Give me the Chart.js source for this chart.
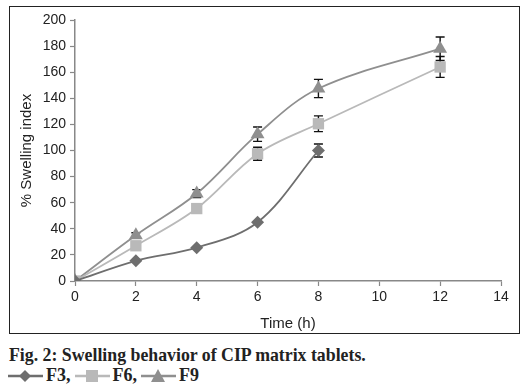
<!DOCTYPE html>
<html>
<head>
<meta charset="utf-8">
<script src="https://cdn.jsdelivr.net/npm/chart.js@4.4.1/dist/chart.umd.min.js"></script>
<style>
    html, body { margin: 0; padding: 0; background: #fff; }
    body { width: 526px; height: 386px; position: relative; overflow: hidden; }
    #frame { position: absolute; left: 9px; top: 6px; width: 509px; height: 326px; border: 1.5px solid #222; }
    #frame canvas { position: absolute; left: 0; top: 0; }
    #caption { position: absolute; left: 9px; top: 345px; font: bold 17.8px "Liberation Serif", serif; color: #222; white-space: nowrap; }
    #legend { position: absolute; left: 8px; top: 365px; font: bold 18px "Liberation Serif", serif; color: #222; white-space: nowrap; display: flex; align-items: center; }
    #legend svg { vertical-align: middle; margin-right: 3px; }
    #legend span { margin-right: 4px; }
</style>
</head>
<body>
<div id="frame"><canvas id="chart" width="509" height="326"></canvas></div>
<div id="caption">Fig. 2: Swelling behavior of CIP matrix tablets.</div>
<div id="legend"></div>
<script>
// data
const times = [0, 2, 4, 6, 8, 12];
const xTicks = [0, 2, 4, 6, 8, 10, 12, 14];
const yTicks = [0, 20, 40, 60, 80, 100, 120, 140, 160, 180, 200];

const f3 = [0, 15.5, 25.5, 45, 100];
const f3Err = [0, 0, 0, 0, 5];
const f6 = [0, 27, 55.5, 97.5, 120.5, 164];
const f6Err = [0, 0, 0, 5, 6, 8];
const f9 = [0, 35, 67, 112.5, 147.5, 178];
const f9Err = [0, 2, 3, 5.5, 7, 9];

const seriesNames = ['F3', 'F6', 'F9'];
const seriesColors = ['#6e6e6e', '#b9b9b9', '#8f8f8f'];
const seriesShapes = ['rectRot', 'rect', 'triangle'];
const seriesSizes = [6.5, 8, 8];

const toPoints = vals => vals.map((v, i) => ({ x: times[i], y: v }));

const errorBars = {
    id: 'errorBars',
    beforeDatasetsDraw(chart) {
        const ctx = chart.ctx;
        const errs = [f3Err, f6Err, f9Err];
        const xs = chart.scales.x, ys = chart.scales.y;
        ctx.save();
        ctx.strokeStyle = '#111';
        ctx.lineWidth = 1.4;
        chart.data.datasets.forEach((ds, di) => {
            ds.data.forEach((p, i) => {
                const e = errs[di][i];
                if (!e) return;
                const px = xs.getPixelForValue(p.x);
                const top = ys.getPixelForValue(p.y + e);
                const bot = ys.getPixelForValue(p.y - e);
                ctx.beginPath();
                ctx.moveTo(px, top); ctx.lineTo(px, bot);
                ctx.moveTo(px - 4.5, top); ctx.lineTo(px + 4.5, top);
                ctx.moveTo(px - 4.5, bot); ctx.lineTo(px + 4.5, bot);
                ctx.stroke();
            });
        });
        ctx.restore();
    }
};

const axisFont = { family: '"Liberation Sans", Arial, sans-serif', size: 14 };
const titleFont = { family: '"Liberation Sans", Arial, sans-serif', size: 15 };

new Chart(document.getElementById('chart'), {
    type: 'line',
    data: {
        datasets: [f3, f6, f9].map((vals, i) => ({
            label: seriesNames[i],
            data: toPoints(vals),
            borderColor: seriesColors[i],
            backgroundColor: seriesColors[i],
            borderWidth: 1.8,
            pointStyle: seriesShapes[i],
            pointRadius: seriesSizes[i],
            pointHoverRadius: seriesSizes[i],
            pointBorderWidth: 0,
            tension: 0.35
        }))
    },
    options: {
        responsive: false,
        animation: false,
        events: [],
        layout: { padding: { left: 0, right: 18, top: 13, bottom: 0 } },
        plugins: { legend: { display: false }, tooltip: { enabled: false } },
        scales: {
            x: {
                type: 'linear', min: 0, max: 14,
                afterBuildTicks: s => { s.ticks = xTicks.map(v => ({ value: v })); },
                afterFit: s => { s.height = 52; },
                grid: { drawOnChartArea: false, color: '#888', tickLength: 5, tickWidth: 1.2 },
                border: { color: '#888', width: 1.5 },
                ticks: { color: '#222', font: axisFont, padding: 3, maxRotation: 0 },
                title: { display: true, text: 'Time (h)', color: '#222', font: titleFont, padding: { top: 0, bottom: 0 } }
            },
            y: {
                min: 0, max: 200,
                afterBuildTicks: s => { s.ticks = yTicks.map(v => ({ value: v })); },
                afterFit: s => { s.width = 65; },
                grid: { drawOnChartArea: false, color: '#888', tickLength: 5, tickWidth: 1.2 },
                border: { color: '#888', width: 1.5 },
                ticks: { color: '#222', font: axisFont, padding: 4 },
                title: { display: true, text: '% Swelling index', color: '#222', font: titleFont, padding: { top: 8, bottom: 0 } }
            }
        }
    },
    plugins: [errorBars]
});

// caption legend with line+marker swatches
const legend = document.getElementById('legend');
const markerSvg = (shape, color) => {
    if (shape === 'rectRot') return `<polygon points="17,3 23,9 17,15 11,9" fill="${color}"/>`;
    if (shape === 'rect') return `<rect x="11" y="3" width="12" height="12" fill="${color}"/>`;
    return `<polygon points="17,2 24,15 10,15" fill="${color}"/>`;
};
seriesNames.forEach((name, i) => {
    const icon = `<svg width="35" height="18"><line x1="0" y1="9" x2="35" y2="9" stroke="${seriesColors[i]}" stroke-width="2.5"/>${markerSvg(seriesShapes[i], seriesColors[i])}</svg>`;
    legend.insertAdjacentHTML('beforeend', icon + `<span>${name}${i < seriesNames.length - 1 ? ',' : ''}</span>`);
});
</script>
</body>
</html>
